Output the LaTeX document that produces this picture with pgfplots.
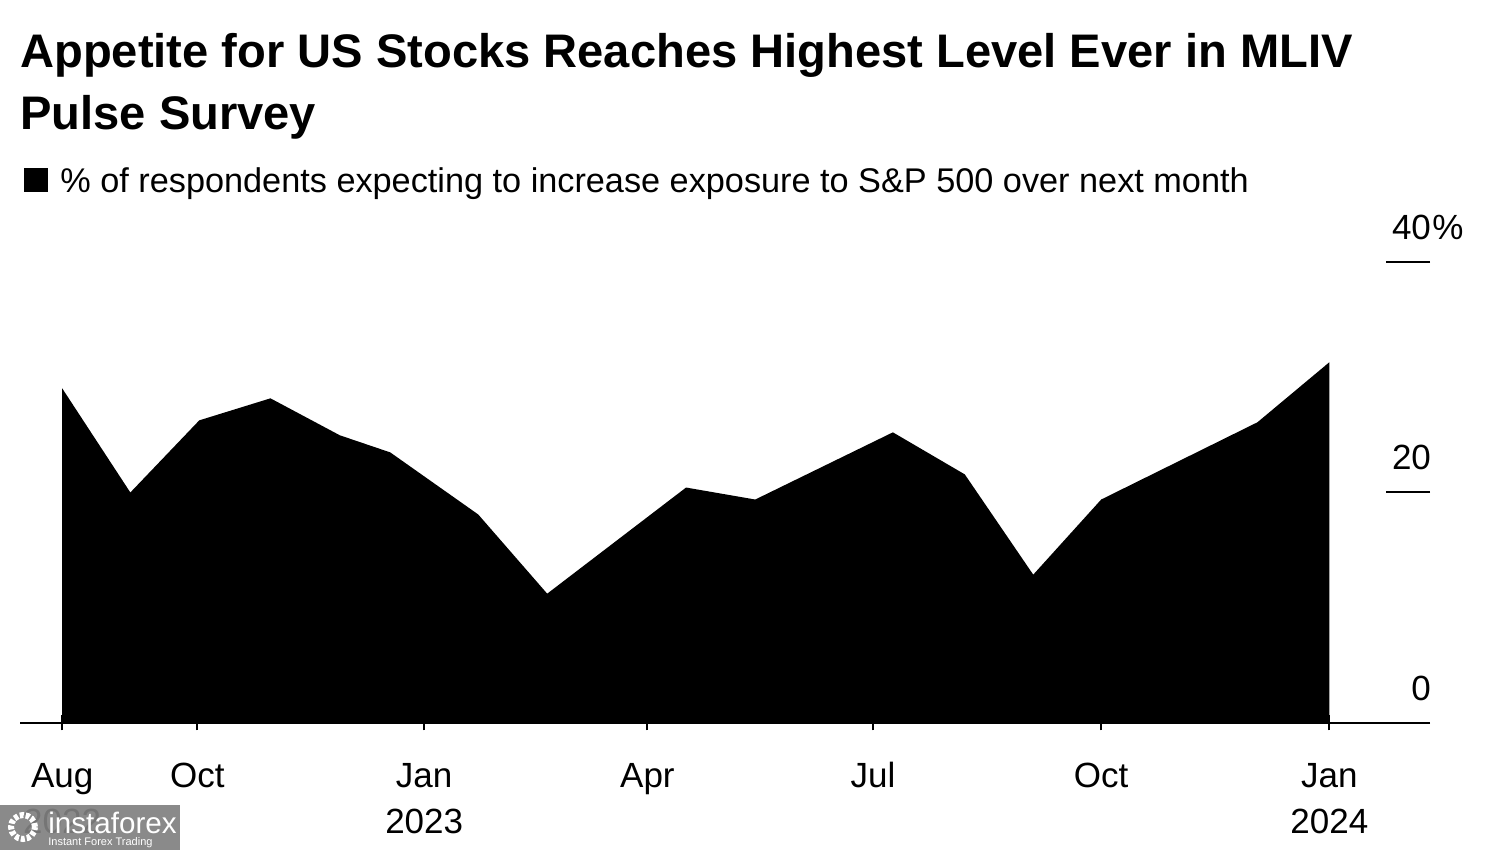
\documentclass[border=0pt]{standalone}
\usepackage{fontspec}
\setmainfont{Liberation Sans}
\usepackage{pgfplots}
\pgfplotsset{compat=1.18}
\begin{document}
\begin{tikzpicture}[x=1pt,y=1pt]
% page is 750x425pt, i.e. 1px of the reference = 0.5pt
\path[use as bounding box] (0,0) rectangle (750,425);
\begin{axis}[
    at={(10pt,63.5pt)},
    anchor=south west,
    scale only axis,
    width=705pt,
    height=230.5pt,
    xmin=-163, xmax=405.6,
    ymin=0, ymax=40,
    axis x line=bottom,
    axis y line=right,
    axis line style={-,line width=1pt,black},
    y axis line style={draw=none},
    xtick={-146,-91.5,0,90,181,273,365},
    xticklabels={{Aug\strut\\2022},{Oct\strut},{Jan\strut\\2023},{Apr\strut},{Jul\strut},{Oct\strut},{Jan\strut\\2024}},
    xticklabel style={align=center,font=\fontsize{17.5}{23}\selectfont,anchor=north,yshift=-9pt},
    x tick style={black,line width=1pt},
    major tick length=7.5pt,
    ytick={0,20,40},
    yticklabels={0,20,{40\rlap{\kern0.7pt\%}}},
    ytick align=inside,
    y tick style={black,line width=1pt},
    ytick style={/pgfplots/major tick length=22pt},
    yticklabel style={font=\fontsize{17.5}{21}\selectfont,anchor=east,xshift=4pt,yshift=17.5pt},
]
\addplot[fill=black,draw=none] coordinates {
    (-146,29.04) (-118.5,20) (-90.7,26.26) (-62,28.17) (-34,24.96) (-13.7,23.48)
    (21.8,18.09) (49.6,11.22) (105.6,20.43) (133.5,19.39) (189,25.22) (218,21.57)
    (245.6,12.87) (273,19.39) (336,26.09) (365,31.3)
} \closedcycle;
\end{axis}
\node[anchor=base west,inner sep=0pt,font=\bfseries\fontsize{23.55}{28}\selectfont] at (10,391) {Appetite for US Stocks Reaches Highest Level Ever in MLIV};
\node[anchor=base west,inner sep=0pt,font=\bfseries\fontsize{23.55}{28}\selectfont] at (10,360) {Pulse Survey};
\fill[black] (12,329) rectangle (24,341);
\node[anchor=base west,inner sep=0pt,font=\fontsize{17.13}{21}\selectfont] at (30,328.5) {\% of respondents expecting to increase exposure to S\&P 500 over next month};
% watermark over the first year label
\fill[black!50,fill opacity=.92] (0,0) rectangle (90,22.5);
\draw[white,line width=3pt,dash pattern=on 2pt off 1pt] (11.5,11.5) circle (6pt);
\node[anchor=base west,inner sep=0pt,text=white,font=\fontsize{14.8}{18}\selectfont] at (24,8) {instaforex};
\node[anchor=base west,inner sep=0pt,text=white,font=\fontsize{5.5}{6}\selectfont] at (24,2) {Instant Forex Trading};
\end{tikzpicture}
\end{document}
